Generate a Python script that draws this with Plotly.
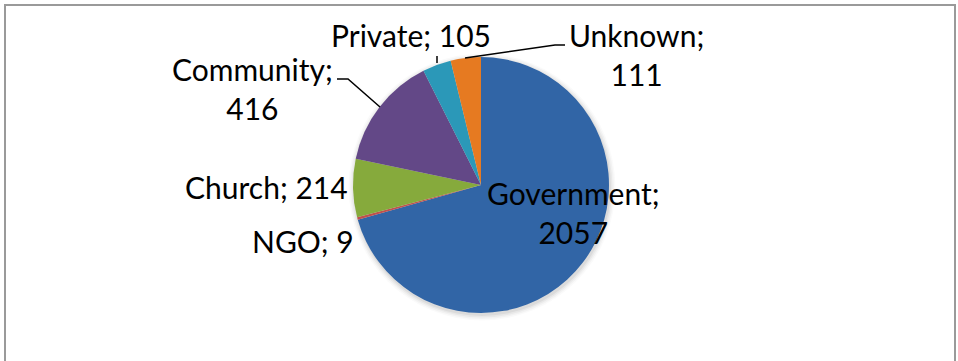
import plotly.graph_objects as go

# Facility ownership counts
categories = ["Government", "NGO", "Church", "Community", "Private", "Unknown"]
counts = [2057, 9, 214, 416, 105, 111]
slice_colors = ["#3165A6", "#C0504D", "#86AA3C", "#634887", "#2B98B8", "#E67A21"]

W, H = 958, 361
CX, CY, R = 481, 185, 128

def px(x):
    return x / W

def py(y):
    return 1 - y / H

fig = go.Figure()
fig.add_trace(go.Pie(
    labels=categories,
    values=counts,
    sort=False,
    direction="clockwise",
    rotation=0,
    marker=dict(colors=slice_colors, line=dict(width=0)),
    textinfo="none",
    hoverinfo="label+value",
    showlegend=False,
    domain=dict(x=[px(CX - R), px(CX + R)], y=[py(CY + R), py(CY - R)]),
))

# label placement (pixel centres) and text lines
label_pos = {
    "Government": (573, 212, True),
    "NGO": (303, 241, False),
    "Church": (266, 187, False),
    "Community": (252, 89, True),
    "Private": (411, 35, False),
    "Unknown": (636, 54, True),
}
annotations = []
for name, val in zip(categories, counts):
    x, y, wrap = label_pos[name]
    sep = "<br>" if wrap else " "
    annotations.append(dict(
        x=px(x), y=py(y), xref="paper", yref="paper",
        text=f"{name};{sep}{val}", showarrow=False,
        xanchor="center", yanchor="middle", align="center",
        font=dict(family="Lato, Liberation Sans, sans-serif", size=30, color="#000000"),
    ))

shapes = []
# soft shadow round the pie
for i, op in enumerate([0.05, 0.04, 0.03, 0.02]):
    d = 1 + i * 1.5
    shapes.append(dict(
        type="circle", xref="paper", yref="paper", layer="below",
        x0=px(CX - R - d + 1), x1=px(CX + R + d + 1),
        y0=py(CY + R + d + 2), y1=py(CY - R - d + 2),
        fillcolor=f"rgba(0,0,0,{op})", line=dict(width=0),
    ))

# leader lines
leaders = [
    [(337, 79), (348, 79), (380, 107)],
    [(437, 56), (437, 63)],
    [(465, 58), (555, 45), (565, 45)],
]
for pts in leaders:
    path = "M " + " L ".join(f"{px(x)},{py(y)}" for x, y in pts)
    shapes.append(dict(type="path", xref="paper", yref="paper", path=path,
                       line=dict(color="#000000", width=1.5)))

# chart frame
shapes.append(dict(type="rect", xref="paper", yref="paper",
                   x0=px(5), x1=px(955), y0=py(375), y1=py(5),
                   line=dict(color="#9A9A9A", width=2)))

fig.update_layout(
    width=W, height=H,
    margin=dict(l=0, r=0, t=0, b=0),
    paper_bgcolor="#FFFFFF",
    plot_bgcolor="#FFFFFF",
    annotations=annotations,
    shapes=shapes,
)

fig.write_html("out.html")
